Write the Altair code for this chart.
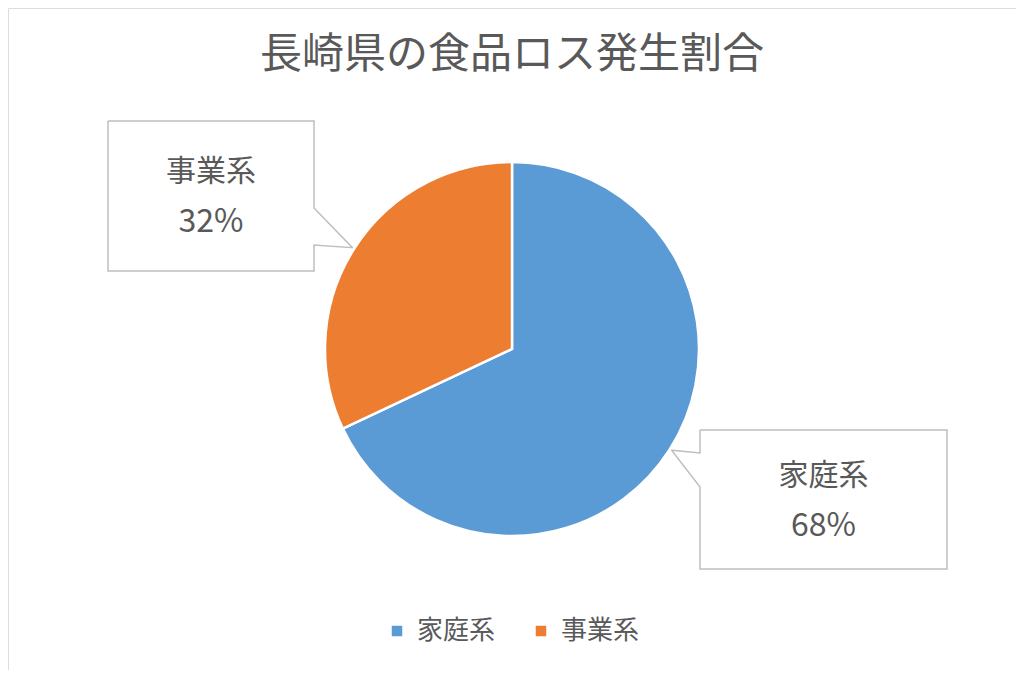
import math
import pandas as pd
import altair as alt

# データ
categories = ["家庭系", "事業系"]
shares = [68, 32]
colors = ["#5B9BD5", "#ED7D31"]
title_text = "長崎県の食品ロス発生割合"

FONT = "Noto Sans CJK JP"
GRAY = "#595959"
W, H = 1008, 662
CX, CY, R = 504, 341, 187

df = pd.DataFrame({"cat": categories, "val": shares, "ord": range(len(categories))})

# 吹き出しの位置（ボックス: 左, 上, 右, 下, 付け根の辺）
boxes = {
    "家庭系": dict(x0=692, y0=422, x1=939, y1=561, side="left", a=445, b=479),
    "事業系": dict(x0=100, y0=113, x1=306, y1=263, side="right", a=200, b=237),
}

# 各スライスの中心角から吹き出しの先端を求める
path_rows, label_rows = [], []
total = sum(shares)
start = 0.0
for cat, v in zip(categories, shares):
    mid = (start + v / 2) / total * 2 * math.pi
    start += v
    tx, ty = CX + (R + 2) * math.sin(mid), CY - (R + 2) * math.cos(mid)
    b = boxes[cat]
    if b["side"] == "left":
        pts = [(b["x0"], b["y0"]), (b["x1"], b["y0"]), (b["x1"], b["y1"]), (b["x0"], b["y1"]),
               (b["x0"], b["b"]), (tx, ty), (b["x0"], b["a"]), (b["x0"], b["y0"])]
    else:
        pts = [(b["x0"], b["y0"]), (b["x1"], b["y0"]), (b["x1"], b["a"]), (tx, ty),
               (b["x1"], b["b"]), (b["x1"], b["y1"]), (b["x0"], b["y1"]), (b["x0"], b["y0"])]
    for i, (px, py) in enumerate(pts):
        path_rows.append({"cat": cat, "i": i, "px": px, "py": py})
    mx = (b["x0"] + b["x1"]) / 2
    my = (b["y0"] + b["y1"]) / 2
    label_rows.append({"t": cat, "px": mx, "py": my - 24, "fs": 30})
    label_rows.append({"t": f"{v}%", "px": mx, "py": my + 26, "fs": 32})

paths = pd.DataFrame(path_rows)
labels = pd.DataFrame(label_rows)

xs = alt.Scale(domain=[0, W], range=[0, W])
ys = alt.Scale(domain=[0, H], range=[0, H])

pie = alt.Chart(df).mark_arc(radius=R, stroke="white", strokeWidth=2.5).encode(
    theta=alt.Theta("val:Q", stack=True),
    order=alt.Order("ord:Q"),
    color=alt.Color(
        "cat:N",
        scale=alt.Scale(domain=categories, range=colors),
        sort=categories,
        legend=alt.Legend(
            title=None, orient="none", legendX=376, legendY=610, direction="horizontal",
            symbolType="square", symbolSize=110, symbolStrokeWidth=0,
            labelFont=FONT, labelFontSize=26, labelColor=GRAY, labelOffset=7,
            columnPadding=32,
        ),
    ),
    x=alt.value(CX),
    y=alt.value(CY),
)

callouts = alt.Chart(paths).mark_line(color="#BFBFBF", strokeWidth=1.5).encode(
    x=alt.X("px:Q", scale=xs, axis=None),
    y=alt.Y("py:Q", scale=ys, axis=None),
    detail="cat:N",
    order="i:Q",
)

texts = alt.Chart(labels).mark_text(font=FONT, color=GRAY, baseline="middle").encode(
    x=alt.X("px:Q", scale=xs, axis=None),
    y=alt.Y("py:Q", scale=ys, axis=None),
    text="t:N",
    size=alt.Size("fs:Q", scale=None, legend=None),
)

title = alt.Chart(pd.DataFrame({"t": [title_text]})).mark_text(
    font=FONT, fontSize=42, color=GRAY, baseline="middle"
).encode(x=alt.value(W / 2), y=alt.value(47), text="t:N")

chart = alt.layer(callouts, pie, texts, title).properties(
    width=W, height=H, autosize=alt.AutoSizeParams(type="none"), padding=0
).configure_view(stroke=None).configure(background="white")

chart.save("out.html", embed_options={"renderer": "svg", "actions": False})
